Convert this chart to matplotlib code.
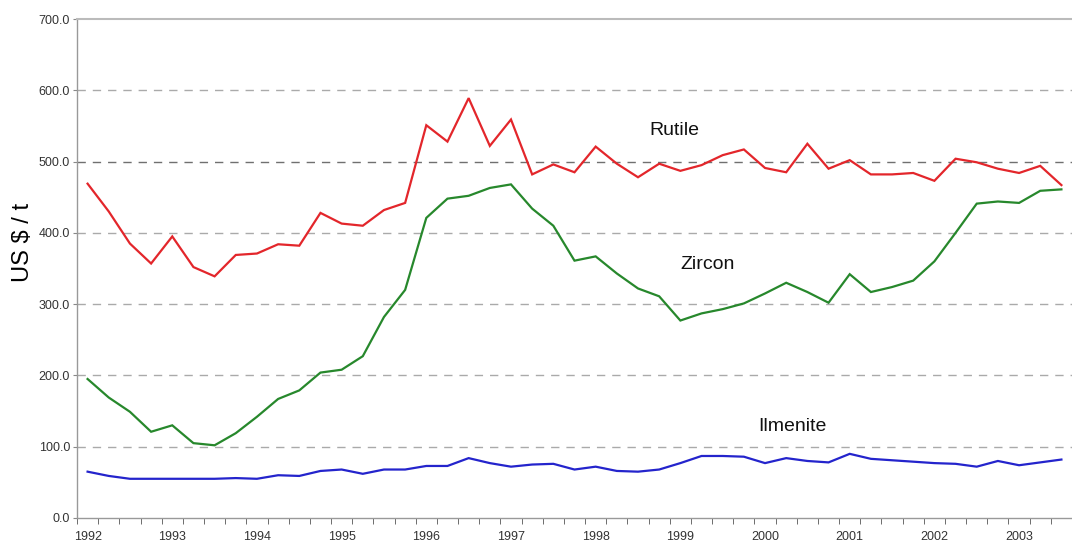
import matplotlib
matplotlib.use("Agg")
import matplotlib.pyplot as plt
import numpy as np

plt.rcParams['font.family'] = ['Liberation Sans', 'DejaVu Sans']

years = [str(y) for y in range(1992, 2004)]
rutile = [469, 430, 385, 357, 395, 352, 339, 369, 371, 384, 382, 428,
          413, 410, 432, 442, 551, 528, 589, 522, 559, 482, 496, 485,
          521, 497, 478, 497, 487, 495, 509, 517, 491, 485, 525, 490,
          502, 482, 482, 484, 473, 504, 499, 490, 484, 494, 467]
zircon = [195, 169, 149, 121, 130, 105, 102, 119, 142, 167, 179, 204,
          208, 227, 282, 320, 421, 448, 452, 463, 468, 434, 410, 361,
          367, 343, 322, 311, 277, 287, 293, 301, 315, 330, 317, 302,
          342, 317, 324, 333, 360, 400, 441, 444, 442, 459, 461]
ilmenite = [65, 59, 55, 55, 55, 55, 55, 56, 55, 60, 59, 66,
            68, 62, 68, 68, 73, 73, 84, 77, 72, 75, 76, 68,
            72, 66, 65, 68, 77, 87, 87, 86, 77, 84, 80, 78,
            90, 83, 81, 79, 77, 76, 72, 80, 74, 78, 82]
series_names = ["Rutile", "Zircon", "Ilmenite"]

fig = plt.figure(figsize=(10.72, 5.42), dpi=100)
ax = fig.add_axes([77/1072, 1-518/542, 1-77/1072, (518-19)/542])

x = np.arange(len(rutile))
ax.plot(x, rutile, color="#e3262b", lw=1.6, solid_joinstyle="miter")
ax.plot(x, zircon, color="#27882c", lw=1.6, solid_joinstyle="miter")
ax.plot(x, ilmenite, color="#2424cc", lw=1.6, solid_joinstyle="miter")

ax.set_xlim(-0.5, 46.05)
ax.set_ylim(0, 700)

# gridlines
for v in range(100, 700, 100):
    c = "#707070" if v == 500 else "#aaaaaa"
    ax.axhline(v, color=c, lw=1.0, ls=(0, (6, 5)), zorder=0)

ax.set_yticks(range(0, 800, 100))
ax.set_yticklabels([f"{v:.1f}" for v in range(0, 800, 100)])
ax.set_xticks(np.arange(0, len(rutile), 4))
ax.set_xticklabels(years)
ax.set_xticks(np.arange(-0.5, len(rutile), 1), minor=True)
ax.tick_params(axis="x", which="major", length=0, labelsize=9, colors="#333333", pad=9)
ax.tick_params(axis="x", which="minor", length=4, color="#555555", direction="out")
ax.tick_params(axis="y", length=3, labelsize=9, colors="#333333", direction="out", pad=2)
ax.tick_params(axis="y", color="#888888")

for s in ["left", "bottom"]:
    ax.spines[s].set_color("#999999")
    ax.spines[s].set_linewidth(1.0)
ax.spines["top"].set_color("#bbbbbb")
ax.spines["top"].set_linewidth(1.5)
ax.spines["right"].set_visible(False)

ax.set_ylabel("US $ / t", fontsize=17)
ax.yaxis.set_label_coords(-0.043, 386/700)

ax.text(27.7, 543, series_names[0], fontsize=14, ha="center", va="center", color="#111111")
ax.text(29.3, 356, series_names[1], fontsize=14, ha="center", va="center", color="#111111")
ax.text(33.3, 129, series_names[2], fontsize=14, ha="center", va="center", color="#111111")

fig.savefig("out.png", dpi=100)
